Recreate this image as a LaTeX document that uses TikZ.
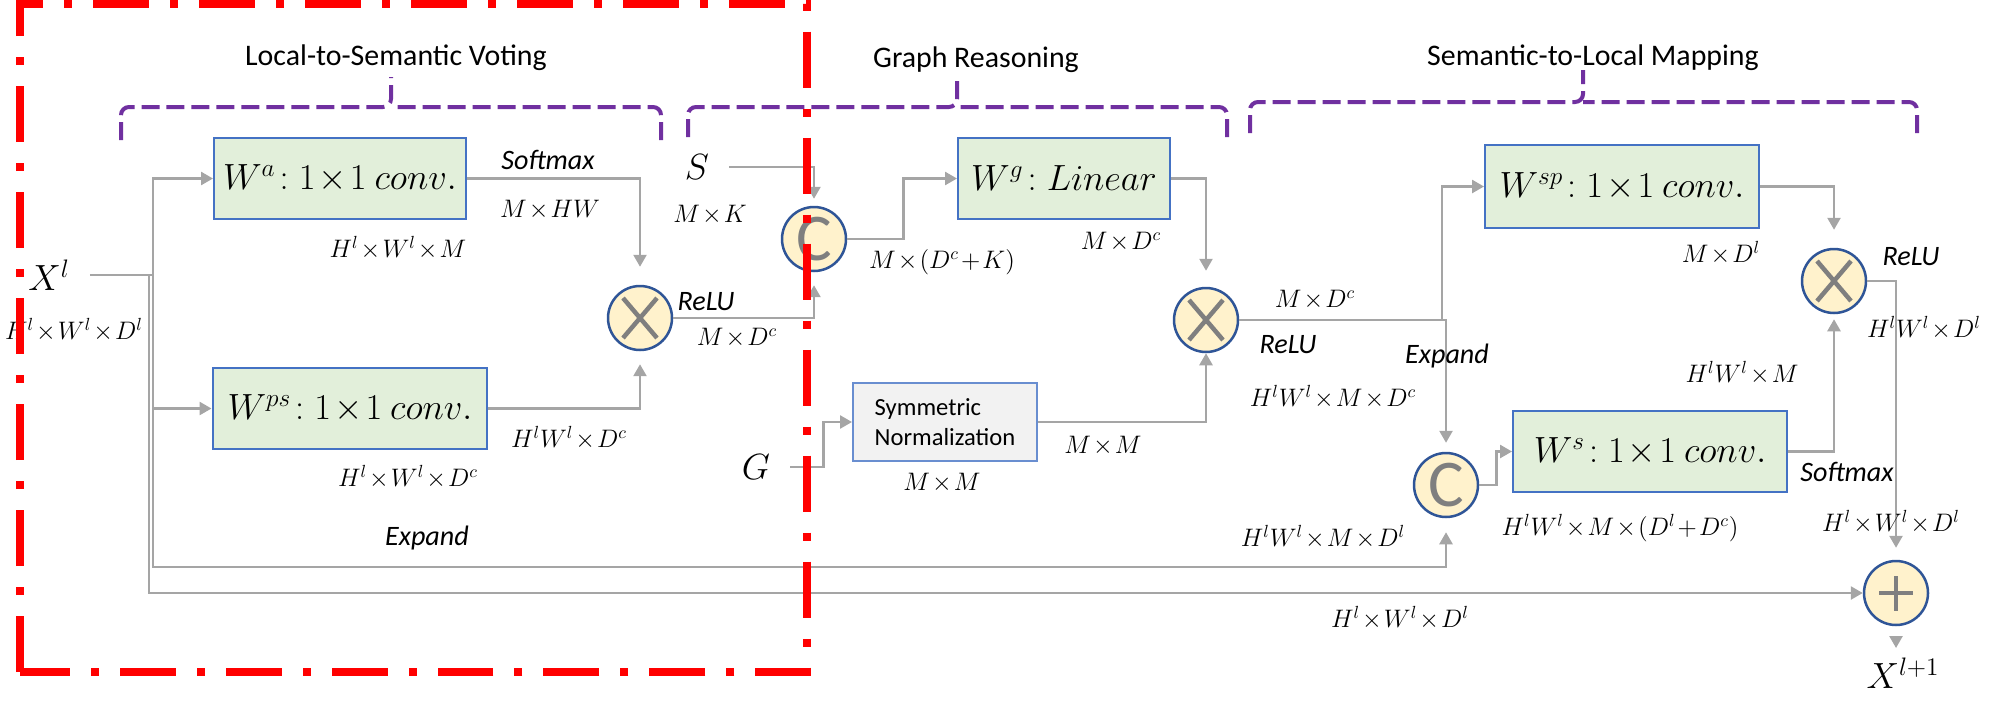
\documentclass[tikz,border=0pt]{standalone}
\usepackage{fontspec}
\setmainfont{Carlito}
\usepackage{tikz}
\usetikzlibrary{arrows.meta}

\definecolor{boxgreen}{RGB}{226,239,218}
\definecolor{boxblue}{RGB}{68,114,196}
\definecolor{normgray}{RGB}{242,242,242}
\definecolor{opfill}{RGB}{255,242,204}
\definecolor{opblue}{RGB}{47,85,151}
\definecolor{symgray}{RGB}{127,127,127}
\definecolor{linegray}{RGB}{165,165,165}
\definecolor{bracepurple}{RGB}{112,48,160}

% tighter spacing round \times
\newcommand{\tightops}{\medmuskip 1.5mu\relax}

\begin{document}
\begin{tikzpicture}[
  x=0.02cm, y=-0.02cm,
  conv/.style={draw=boxblue, line width=0.04cm, fill=boxgreen, minimum height=1.62cm, inner sep=0pt, font=\fontsize{20}{22}\selectfont\tightops},
  normbox/.style={draw=boxblue!80, line width=0.04cm, fill=normgray, minimum width=3.68cm, minimum height=1.56cm, inner sep=0pt, align=left, font=\fontsize{14}{17}\selectfont},
  opnode/.style={circle, draw=opblue, fill=opfill, line width=0.05cm, minimum size=1.28cm, inner sep=0pt},
  mulop/.style={opnode, path picture={\draw[symgray, line width=0.09cm]
      ([shift={(-0.34cm,-0.4cm)}]path picture bounding box.center) -- ([shift={(0.34cm,0.4cm)}]path picture bounding box.center)
      ([shift={(-0.34cm,0.4cm)}]path picture bounding box.center) -- ([shift={(0.34cm,-0.4cm)}]path picture bounding box.center);}},
  catop/.style={opnode, text=symgray, font=\fontsize{38}{38}\selectfont},
  addop/.style={opnode, path picture={\draw[symgray, line width=0.08cm]
      ([xshift=-0.34cm]path picture bounding box.center) -- ([xshift=0.34cm]path picture bounding box.center)
      ([yshift=-0.35cm]path picture bounding box.center) -- ([yshift=0.35cm]path picture bounding box.center);}},
  wire/.style={draw=linegray, line width=0.05cm},
  arrow/.style={wire, -{Triangle[length=0.24cm, width=0.26cm]}},
  dim/.style={inner sep=0pt, font=\fontsize{14}{16}\selectfont\tightops},
  act/.style={inner sep=0pt, font=\fontsize{16}{18}\selectfont\itshape},
  stage/.style={inner sep=0pt, font=\fontsize{17}{20}\selectfont},
  input/.style={inner sep=0pt, inner xsep=0.4cm, font=\fontsize{20}{22}\selectfont},
  stagebrace/.style={draw=bracepurple, line width=0.08cm, dash pattern=on 0.36cm off 0.14cm, rounded corners=0.16cm},
  redframe/.style={draw=red, line width=0.16cm, dash pattern=on 1.12cm off 0.42cm on 0.16cm off 0.42cm}
]
\useasboundingbox (0,0) rectangle (2000,704);

% stage titles and braces
\node[stage] (voting) at (396,58) {Local-to-Semantic Voting};
\node[stage] (reasoning) at (976,60) {Graph Reasoning};
\node[stage] (mapping) at (1593,58) {Semantic-to-Local Mapping};
\draw[stagebrace] (121,140) -- (121,107) -- (391,107) -- (391,77);
\draw[stagebrace] (661,140) -- (661,107) -- (391,107);
\draw[stagebrace] (688,137) -- (688,107) -- (957,107) -- (957,75);
\draw[stagebrace] (1227,137) -- (1227,107) -- (957,107);
\draw[stagebrace] (1250,133) -- (1250,102) -- (1583,102) -- (1583,70);
\draw[stagebrace] (1917,133) -- (1917,102) -- (1583,102);

% inputs and output
\node[input] (xin) at (49,275) {$X^{l}$};
\node[input] (s) at (697,167) {$S$};
\node[input] (g) at (756,467) {$G$};
\node[inner sep=0pt, font=\fontsize{20}{22}\selectfont] (xout) at (1903,673) {$X^{l+1}$};

% boxes
\node[conv, minimum width=5.04cm] (wa) at (340,178.5) {$W^{a}\!:1\times1\ conv.$};
\node[conv, minimum width=5.5cm] (wps) at (350,408.5) {$W^{ps}\!:1\times1\ conv.$};
\node[conv, minimum width=4.24cm] (wg) at (1064,178.5) {$W^{g}\!:Linear$};
\node[normbox] (norm) at (945,422) {Symmetric\\Normalization};
\node[conv, minimum width=5.48cm, minimum height=1.66cm] (wsp) at (1622,186.5) {$W^{sp}\!:1\times1\ conv.$};
\node[conv, minimum width=5.48cm] (ws) at (1650,451.5) {$W^{s}\!:1\times1\ conv.$};

% operators
\node[mulop] (mul1) at (640,318) {};
\node[catop] (cat1) at (814,239) {C};
\node[mulop] (mul2) at (1206,320) {};
\node[mulop] (mul3) at (1834,281) {};
\node[catop] (cat2) at (1446,485) {C};
\node[addop] (add) at (1896,593) {};

% junctions
\coordinate (split) at (153,275);
\coordinate (split2) at (149,275);
\coordinate (expandrow) at (153,567);
\coordinate (fork) at (1442,320);
\coordinate (outtip) at (1896,648);

% connectors
\draw[wire] (xin) -- (split);
\draw[arrow] (split) |- (wa);
\draw[arrow] (split) |- (wps);
\draw[arrow, shorten >=0.28cm] (split) -- (expandrow) -- (expandrow -| cat2) -- (cat2);
\draw[arrow] (split2) |- (add);
\draw[arrow, shorten >=0.36cm] (wa.east) -| (mul1);
\draw[arrow, shorten >=0.26cm] (wps.east) -| (mul1);
\draw[arrow, shorten >=0.26cm] (mul1) -| (cat1);
\draw[arrow, shorten >=0.14cm] (s) -| (cat1);
\draw[arrow] (cat1.east) -- ++(56,0) |- (wg);
\draw[arrow, shorten >=0.32cm] (wg.east) -| (mul2);
\draw[arrow] (g.east) -- ++(33,0) |- (norm);
\draw[arrow] (norm.east) -| (mul2);
\draw[arrow] (mul2) -- (fork) |- (wsp);
\draw[arrow, shorten >=0.18cm] (mul2) -| (cat2);
\draw[arrow, shorten >=0.36cm] (wsp.east) -| (mul3);
\draw[arrow] (cat2.east) -- ++(17,0) |- (ws);
\draw[arrow, shorten >=0.1cm] (ws.east) -| (mul3);
\draw[arrow, shorten >=0.24cm] (mul3) -| (add);
\draw[arrow, shorten <=0.22cm] (add) -- (outtip);

% labels
\node[act] at (548,160) {Softmax};
\node[dim] at (550,210) {$M\times HW$};
\node[dim] at (398,248) {$H^{l}\times W^{l}\times M$};
\node[dim] at (74,330) {$H^{l}\times W^{l}\times D^{l}$};
\node[dim] at (569,438) {$H^{l}W^{l}\times D^{c}$};
\node[dim] at (408,477) {$H^{l}\times W^{l}\times D^{c}$};
\node[act] at (427,538) {Expand};
\node[dim] at (710,215) {$M\times K$};
\node[act] at (706,302) {ReLU};
\node[dim] at (737,338) {$M\times D^{c}$};
\node[dim] at (942,262) {$M\times(D^{c}+K)$};
\node[dim] at (1121,242) {$M\times D^{c}$};
\node[dim] at (942,483) {$M\times M$};
\node[dim] at (1103,446) {$M\times M$};
\node[dim] at (1315,300) {$M\times D^{c}$};
\node[act] at (1288,345) {ReLU};
\node[act] at (1447,356) {Expand};
\node[dim] at (1333,397) {$H^{l}W^{l}\times M\times D^{c}$};
\node[dim] at (1721,253) {$M\times D^{l}$};
\node[act] at (1911,257) {ReLU};
\node[dim] at (1924,328) {$H^{l}W^{l}\times D^{l}$};
\node[dim] at (1742,373) {$H^{l}W^{l}\times M$};
\node[act] at (1847,472) {Softmax};
\node[dim] at (1620,528) {$H^{l}W^{l}\times M\times(D^{l}+D^{c})$};
\node[dim] at (1891,522) {$H^{l}\times W^{l}\times D^{l}$};
\node[dim] at (1323,537) {$H^{l}W^{l}\times M\times D^{l}$};
\node[dim] at (1400,618) {$H^{l}\times W^{l}\times D^{l}$};

% highlighted region
\draw[redframe] (20,672) -- (20,3.5) -- (807,3.5) -- (807,672) -- cycle;
\end{tikzpicture}
\end{document}
